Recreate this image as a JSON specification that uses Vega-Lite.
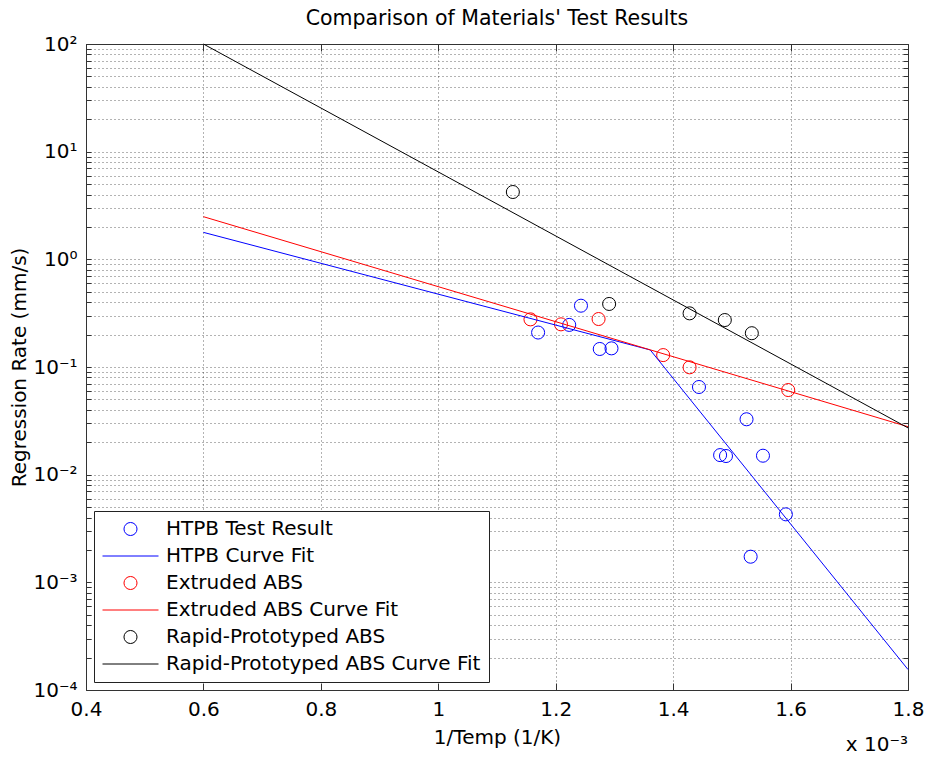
{
  "$schema": "https://vega.github.io/schema/vega-lite/v6.json",
  "width": 822,
  "height": 646,
  "autosize": {"type": "none"},
  "padding": {"left": 86, "top": 44, "right": 19, "bottom": 67},
  "background": "white",
  "title": {
    "text": "Comparison of Materials' Test Results",
    "font": "DejaVu Sans",
    "fontSize": 20.5,
    "fontWeight": "normal",
    "color": "black",
    "anchor": "middle",
    "offset": 5
  },
  "config": {
    "font": "DejaVu Sans",
    "view": {"stroke": null}
  },
  "datasets": {
    "results": [
      {"series": "HTPB Test Result", "invT": 1.170, "rate": 0.209},
      {"series": "HTPB Test Result", "invT": 1.223, "rate": 0.246},
      {"series": "HTPB Test Result", "invT": 1.243, "rate": 0.371},
      {"series": "HTPB Test Result", "invT": 1.275, "rate": 0.147},
      {"series": "HTPB Test Result", "invT": 1.295, "rate": 0.149},
      {"series": "HTPB Test Result", "invT": 1.444, "rate": 0.0652},
      {"series": "HTPB Test Result", "invT": 1.525, "rate": 0.0327},
      {"series": "HTPB Test Result", "invT": 1.480, "rate": 0.0152},
      {"series": "HTPB Test Result", "invT": 1.490, "rate": 0.0149},
      {"series": "HTPB Test Result", "invT": 1.553, "rate": 0.0150},
      {"series": "HTPB Test Result", "invT": 1.592, "rate": 0.00428},
      {"series": "HTPB Test Result", "invT": 1.532, "rate": 0.00173},
      {"series": "Extruded ABS", "invT": 1.157, "rate": 0.277},
      {"series": "Extruded ABS", "invT": 1.209, "rate": 0.249},
      {"series": "Extruded ABS", "invT": 1.273, "rate": 0.279},
      {"series": "Extruded ABS", "invT": 1.383, "rate": 0.129},
      {"series": "Extruded ABS", "invT": 1.428, "rate": 0.0993},
      {"series": "Extruded ABS", "invT": 1.596, "rate": 0.0611},
      {"series": "Rapid-Prototyped ABS", "invT": 1.127, "rate": 4.22},
      {"series": "Rapid-Prototyped ABS", "invT": 1.291, "rate": 0.385},
      {"series": "Rapid-Prototyped ABS", "invT": 1.428, "rate": 0.315},
      {"series": "Rapid-Prototyped ABS", "invT": 1.488, "rate": 0.273},
      {"series": "Rapid-Prototyped ABS", "invT": 1.534, "rate": 0.206}
    ],
    "fits": [
      {"series": "HTPB Curve Fit", "invT": 0.6, "rate": 1.78},
      {"series": "HTPB Curve Fit", "invT": 1.361, "rate": 0.144},
      {"series": "HTPB Curve Fit", "invT": 1.8, "rate": 0.000155},
      {"series": "Extruded ABS Curve Fit", "invT": 0.6, "rate": 2.49},
      {"series": "Extruded ABS Curve Fit", "invT": 1.8, "rate": 0.0279},
      {"series": "Rapid-Prototyped ABS Curve Fit", "invT": 0.6, "rate": 100},
      {"series": "Rapid-Prototyped ABS Curve Fit", "invT": 1.8, "rate": 0.0272}
    ],
    "note": [
      {"label": "x 10⁻³"}
    ]
  },
  "layer": [
    {
      "data": {"name": "results"},
      "mark": {"type": "point", "filled": false, "strokeWidth": 1, "opacity": 1},
      "encoding": {
        "x": {
          "field": "invT",
          "type": "quantitative",
          "scale": {"domain": [0.4, 1.8], "nice": false, "zero": false},
          "axis": {
            "orient": "bottom",
            "values": [0.4, 0.6, 0.8, 1, 1.2, 1.4, 1.6, 1.8],
            "format": "~g",
            "title": "1/Temp (1/K)",
            "titleFontSize": 20,
            "titleFontWeight": "normal",
            "titleColor": "black",
            "titlePadding": 8,
            "labelFontSize": 20,
            "labelColor": "black",
            "labelPadding": 16,
            "labelOverlap": false,
            "labelFlush": false,
            "tickSize": -7,
            "tickColor": "#333",
            "domainColor": "#333",
            "grid": true,
            "gridDash": [1, 3],
            "gridColor": "#000",
            "gridOpacity": 0.6
          }
        },
        "y": {
          "field": "rate",
          "type": "quantitative",
          "scale": {"type": "log", "domain": [0.0001, 100], "nice": false},
          "axis": {
            "orient": "left",
            "values": [0.0001, 0.0002, 0.0003, 0.0004, 0.0005, 0.0006, 0.0007, 0.0008, 0.0009,
                       0.001, 0.002, 0.003, 0.004, 0.005, 0.006, 0.007, 0.008, 0.009,
                       0.01, 0.02, 0.03, 0.04, 0.05, 0.06, 0.07, 0.08, 0.09,
                       0.1, 0.2, 0.3, 0.4, 0.5, 0.6, 0.7, 0.8, 0.9,
                       1, 2, 3, 4, 5, 6, 7, 8, 9,
                       10, 20, 30, 40, 50, 60, 70, 80, 90, 100],
            "labelExpr": "datum.value == 100 ? '10²' : datum.value == 10 ? '10¹' : datum.value == 1 ? '10⁰' : datum.value == 0.1 ? '10⁻¹' : datum.value == 0.01 ? '10⁻²' : datum.value == 0.001 ? '10⁻³' : datum.value == 0.0001 ? '10⁻⁴' : ''",
            "title": "Regression Rate (mm/s)",
            "titleFontSize": 20,
            "titleFontWeight": "normal",
            "titleColor": "black",
            "titlePadding": 3,
            "labelFontSize": 20,
            "labelColor": "black",
            "labelPadding": 14,
            "labelOverlap": false,
            "labelFlush": false,
            "tickSize": -5,
            "tickColor": "#333",
            "domainColor": "#333",
            "grid": true,
            "gridDash": [1, 3],
            "gridColor": "#000",
            "gridOpacity": 0.6
          }
        },
        "color": {
          "field": "series",
          "type": "nominal",
          "scale": {
            "domain": ["HTPB Test Result", "HTPB Curve Fit", "Extruded ABS", "Extruded ABS Curve Fit", "Rapid-Prototyped ABS", "Rapid-Prototyped ABS Curve Fit"],
            "range": ["#0000ff", "#0000ff", "#ff0000", "#ff0000", "#000000", "#000000"]
          },
          "legend": {
            "title": null,
            "orient": "bottom-left",
            "offset": 8,
            "padding": 8,
            "strokeColor": "#222",
            "fillColor": "white",
            "labelFont": "DejaVu Sans",
            "labelFontSize": 20,
            "labelColor": "black",
            "labelLimit": 500,
            "labelOffset": 7,
            "clipHeight": 20,
            "rowPadding": 7,
            "symbolStrokeWidth": 1,
            "symbolOpacity": 1
          }
        },
        "shape": {
          "field": "series",
          "type": "nominal",
          "scale": {
            "domain": ["HTPB Test Result", "HTPB Curve Fit", "Extruded ABS", "Extruded ABS Curve Fit", "Rapid-Prototyped ABS", "Rapid-Prototyped ABS Curve Fit"],
            "range": ["circle", "stroke", "circle", "stroke", "circle", "stroke"]
          }
        },
        "size": {
          "field": "series",
          "type": "nominal",
          "scale": {
            "type": "ordinal",
            "domain": ["HTPB Test Result", "HTPB Curve Fit", "Extruded ABS", "Extruded ABS Curve Fit", "Rapid-Prototyped ABS", "Rapid-Prototyped ABS Curve Fit"],
            "range": [170, 3136, 170, 3136, 170, 3136]
          }
        }
      }
    },
    {
      "data": {"name": "fits"},
      "mark": {"type": "line", "strokeWidth": 1},
      "encoding": {
        "x": {
          "field": "invT",
          "type": "quantitative",
          "axis": {
            "orient": "top",
            "values": [0.4, 0.6, 0.8, 1, 1.2, 1.4, 1.6, 1.8],
            "labels": false,
            "title": null,
            "tickSize": -7,
            "tickColor": "#333",
            "domainColor": "#333",
            "grid": false
          }
        },
        "y": {
          "field": "rate",
          "type": "quantitative",
          "axis": {
            "orient": "right",
            "values": [0.0001, 0.0002, 0.0003, 0.0004, 0.0005, 0.0006, 0.0007, 0.0008, 0.0009,
                       0.001, 0.002, 0.003, 0.004, 0.005, 0.006, 0.007, 0.008, 0.009,
                       0.01, 0.02, 0.03, 0.04, 0.05, 0.06, 0.07, 0.08, 0.09,
                       0.1, 0.2, 0.3, 0.4, 0.5, 0.6, 0.7, 0.8, 0.9,
                       1, 2, 3, 4, 5, 6, 7, 8, 9,
                       10, 20, 30, 40, 50, 60, 70, 80, 90, 100],
            "labels": false,
            "title": null,
            "tickSize": -5,
            "tickColor": "#333",
            "domainColor": "#333",
            "grid": false
          }
        },
        "color": {"field": "series", "type": "nominal"}
      }
    },
    {
      "data": {"name": "note"},
      "mark": {"type": "text", "align": "right", "baseline": "top", "dy": 45, "fontSize": 20, "color": "black"},
      "encoding": {
        "x": {"datum": 1.8, "type": "quantitative", "axis": null},
        "y": {"datum": 0.0001, "type": "quantitative", "axis": null},
        "text": {"field": "label"}
      }
    }
  ],
  "resolve": {"axis": {"x": "independent", "y": "independent"}}
}
